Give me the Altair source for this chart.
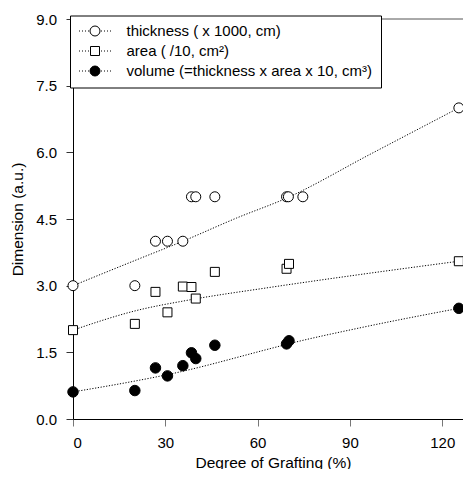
import altair as alt
import pandas as pd

# ---- data ----
# Degree of grafting (%) of the samples
GRAFT_THICK = [0, 20.1, 26.8, 30.7, 35.7, 38.5, 39.9, 46.1, 69.4, 70.0, 74.7, 125.4]
THICKNESS = [3.0, 3.0, 4.0, 4.0, 4.0, 5.0, 5.0, 5.0, 5.0, 5.0, 5.0, 7.0]
GRAFT_AV = [0, 20.1, 26.8, 30.7, 35.7, 38.5, 39.9, 46.1, 69.4, 70.2, 125.4]
AREA = [2.0, 2.14, 2.86, 2.40, 2.98, 2.97, 2.71, 3.31, 3.38, 3.49, 3.55]
VOLUME = [0.61, 0.64, 1.15, 0.97, 1.20, 1.49, 1.36, 1.66, 1.69, 1.76, 2.49]

# fitted (dotted) curves
FIT_THICK_X = [0, 20.6, 35.7, 53.1, 69.4, 96.4, 125.4]
FIT_THICK_Y = [3.0, 3.58, 4.0, 4.52, 4.97, 5.95, 7.0]
FIT_AREA_X = [0, 20.6, 37.9, 63.9, 93.2, 125.4]
FIT_AREA_Y = [2.0, 2.44, 2.68, 2.96, 3.25, 3.55]
FIT_VOL_X = [0, 20.6, 31.5, 63.9, 70.0, 93.2, 125.4]
FIT_VOL_Y = [0.61, 0.86, 1.01, 1.58, 1.69, 2.05, 2.49]

LEGEND_LABELS = [
    "thickness ( x 1000, cm)",
    "area ( /10, cm\u00b2)",
    "volume (=thickness x area x 10, cm\u00b3)",
]
X_TICKS = [0, 30, 60, 90, 120]
Y_TICKS = [0, 1.5, 3.0, 4.5, 6.0, 7.5, 9.0]
X_DOMAIN = [0, 126.75]   # the reference's frame runs past the window edge
Y_DOMAIN = [0, 9]

FONT = "Liberation Sans"

# ---- tables ----
pts = pd.concat([
    pd.DataFrame({"g": GRAFT_THICK, "v": THICKNESS, "series": "thickness"}),
    pd.DataFrame({"g": GRAFT_AV, "v": AREA, "series": "area"}),
    pd.DataFrame({"g": GRAFT_AV, "v": VOLUME, "series": "volume"}),
], ignore_index=True)

fits = pd.concat([
    pd.DataFrame({"g": FIT_THICK_X, "v": FIT_THICK_Y, "series": "thickness"}),
    pd.DataFrame({"g": FIT_AREA_X, "v": FIT_AREA_Y, "series": "area"}),
    pd.DataFrame({"g": FIT_VOL_X, "v": FIT_VOL_Y, "series": "volume"}),
], ignore_index=True)

x_axis = alt.Axis(
    values=X_TICKS, title="Degree of Grafting (%)", grid=False,
    tickSize=7, tickColor="#777", domainColor="black", labelPadding=9.5,
    labelFontSize=15, labelColor="black", titleFontSize=15.5,
    titleFontWeight="normal", titleColor="black",
    titleBaseline="alphabetic", titleY=48, titleX=200,
)
y_axis = alt.Axis(
    values=Y_TICKS, format=".1f", title="Dimension (a.u.)", grid=False,
    tickSize=7, tickColor="#333", domainColor="black", labelPadding=9.5,
    labelFontSize=15, labelColor="black", titleFontSize=15.5,
    titleFontWeight="normal", titleColor="black",
    titleBaseline="alphabetic", titleX=-51,
)
x_enc = alt.X("g:Q", scale=alt.Scale(domain=X_DOMAIN, nice=False, zero=False), axis=x_axis)
y_enc = alt.Y("v:Q", scale=alt.Scale(domain=Y_DOMAIN, nice=False, zero=False), axis=y_axis)

# top frame line at the top of the y range
top_line = alt.Chart(alt.Data(values=[{}])).mark_rule(color="#555", strokeWidth=1).encode(
    y=alt.datum(Y_DOMAIN[1])
)

def fit_layer(name):
    return alt.Chart(fits).transform_filter(alt.datum.series == name).mark_line(
        color="black", strokeWidth=1, strokeDash=[1.2, 1.6], interpolate="monotone"
    ).encode(x=x_enc, y=y_enc)

def pt_layer(name, shape, fill, size):
    return alt.Chart(pts).transform_filter(alt.datum.series == name).mark_point(
        shape=shape, filled=True, fill=fill, stroke="black", strokeWidth=1,
        size=size, opacity=1
    ).encode(x=x_enc, y=y_enc)

# legend symbols: dotted stub + marker, in unit symbol space
DOTS = ("M-3.2,0h0.2M-2.6,0h0.2M-2.0,0h0.2M-1.4,0h0.2"
        "M1.2,0h0.2M1.8,0h0.2M2.4,0h0.2M3.0,0h0.2")
CIRCLE = "M1,0A1,1,0,1,1,-1,0A1,1,0,1,1,1,0Z"
SQUARE = "M-0.9,-0.9h1.8v1.8h-1.8Z"
PATHS = [DOTS + CIRCLE, DOTS + SQUARE, DOTS + CIRCLE]
FILLS = ["white", "white", "black"]
STROKES = ["black", "black", "black"]

leg = alt.Legend(
    title=None, orient="none", legendX=-3, legendY=-3.5, padding=8,
    strokeColor="black", fillColor="white",
    labelFont=FONT, labelFontSize=15, labelColor="black", labelLimit=500,
    labelOffset=24, symbolOffset=9.5, symbolSize=100,
    symbolStrokeWidth=1, symbolOpacity=1, rowPadding=4,
)
legend_layer = alt.Chart(pd.DataFrame({"label": LEGEND_LABELS})).mark_point(
    filled=True, stroke="black", strokeWidth=1, size=100, opacity=1
).encode(
    x=x_enc, y=y_enc,
    shape=alt.Shape("label:N", scale=alt.Scale(domain=LEGEND_LABELS, range=PATHS), legend=leg),
    fill=alt.Fill("label:N", scale=alt.Scale(domain=LEGEND_LABELS, range=FILLS), legend=leg),
    stroke=alt.Stroke("label:N", scale=alt.Scale(domain=LEGEND_LABELS, range=STROKES), legend=leg),
)

chart = alt.layer(
    top_line,
    fit_layer("thickness"), fit_layer("area"), fit_layer("volume"),
    pt_layer("thickness", "circle", "white", 100),
    pt_layer("area", "square", "white", 81),
    pt_layer("volume", "circle", "black", 110),
    legend_layer,
).properties(
    width=390, height=400,
    padding={"left": 65, "top": 11, "right": 0, "bottom": 50},
    autosize=alt.AutoSizeParams(type="none"),
).configure_view(stroke=None).configure_axis(
    labelFont=FONT, titleFont=FONT
).configure_legend(labelFont=FONT)

chart.save("out.html", embed_options={"renderer": "svg", "actions": False})
